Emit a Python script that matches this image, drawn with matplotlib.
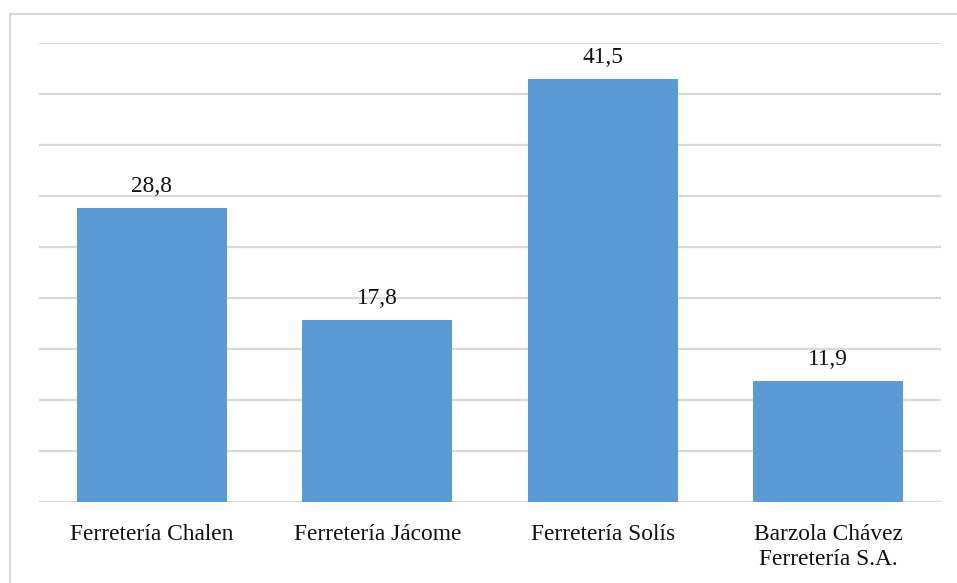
import matplotlib
matplotlib.use("Agg")
import matplotlib.pyplot as plt
from matplotlib.patches import Rectangle

categories = ["Ferretería Chalen", "Ferretería Jácome", "Ferretería Solís",
              "Barzola Chávez\nFerretería S.A."]
values = [28.8, 17.8, 41.5, 11.9]
value_labels = ["28,8", "17,8", "41,5", "11,9"]

W, H = 957, 583
fig = plt.figure(figsize=(W / 100, H / 100), dpi=100)
plt.rcParams["font.family"] = ["Liberation Serif", "DejaVu Serif"]

# outer frame of the chart area
fig.patches.append(Rectangle((10 / W, 0 - 0.05), 1.2, (H - 14) / H + 0.05,
                             transform=fig.transFigure, fill=False,
                             edgecolor="#D9D9D9", linewidth=1.5))

left, right, top, bottom = 39, 941, 43, 502
ax = fig.add_axes([left / W, 1 - bottom / H, (right - left) / W, (bottom - top) / H])

x = range(len(categories))
ax.bar(x, values, width=0.665, color="#5B9BD5", zorder=2)
ax.set_xlim(-0.5, len(categories) - 0.5)
ax.set_ylim(0, 45)
ax.set_yticks(range(0, 46, 5))
ax.yaxis.grid(True, color="#D9D9D9", linewidth=1.6, zorder=0)
ax.tick_params(axis="y", left=False, labelleft=False)
ax.tick_params(axis="x", bottom=False, pad=12)
ax.set_xticks(list(x))
ax.set_xticklabels(categories, fontsize=16.8, color="#111111", linespacing=1.3)
for s in ax.spines.values():
    s.set_visible(False)

for xi, v, lab in zip(x, values, value_labels):
    ax.annotate(lab, (xi, v), xytext=(0, 11.5), textcoords="offset points",
                ha="center", va="baseline", fontsize=16.8, color="#111111")

fig.savefig("out.png", dpi=100)
